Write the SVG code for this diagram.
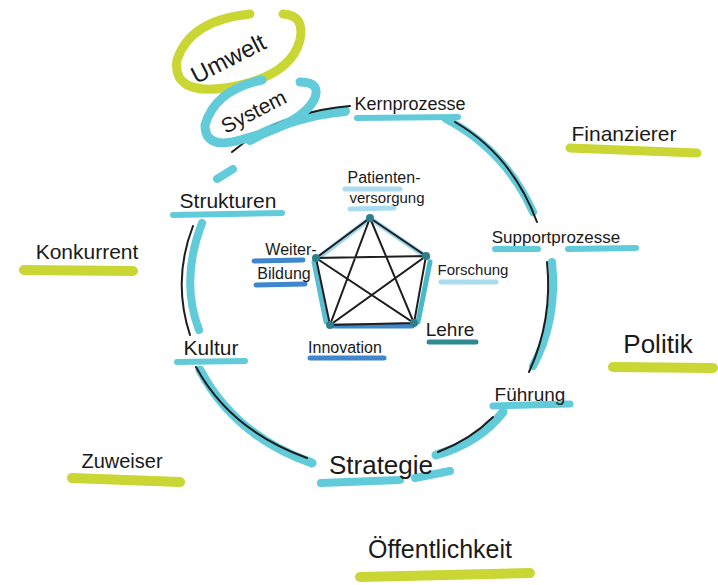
<svg xmlns="http://www.w3.org/2000/svg" width="718" height="585" viewBox="0 0 718 585">
<style>
text{font-family:"Liberation Sans","DejaVu Sans",sans-serif;fill:#1a1a1a;text-anchor:middle}
.teal{fill:none;stroke:#62cbd9;stroke-linecap:round}
.yel{fill:none;stroke:#c9d634;stroke-linecap:round}
.ink{fill:none;stroke:#1e1e1e;stroke-width:2;stroke-linecap:round}
.pe{fill:none;stroke-linecap:round;stroke-width:5}
</style>
<rect width="718" height="585" fill="#ffffff"/>

<g id="connectors">
  <path class="teal" stroke-width="10" d="M250,140 Q292,116 345,111"/>
  <path class="ink" d="M232,152 Q280,112 350,106"/>
  <path class="teal" stroke-width="8" d="M446,119 Q505,150 533,212"/>
  <path class="ink" d="M455,122 Q512,155 537,222"/>
  <path class="teal" stroke-width="8" d="M552,262 Q558,320 533,366"/>
  <path class="ink" d="M547,262 Q553,320 529,372"/>
  <path class="teal" stroke-width="9" d="M503,412 Q480,442 436,455"/>
  <path class="ink" d="M493,417 Q470,440 438,452"/>
  <path class="teal" stroke-width="9" d="M312,463 Q235,436 200,370"/>
  <path class="ink" d="M307,458 Q230,430 196,367"/>
  <path class="teal" stroke-width="8" d="M199,330 Q180,280 202,223"/>
  <path class="ink" d="M190,335 Q172,280 193,226"/>
  <path class="teal" stroke-width="8" d="M217,179 L233,169"/>
</g>

<g id="umwelt">
  <path class="yel" stroke-width="9" d="M250,14 Q190,20 177,60 Q172,95 225,88 Q290,78 300,40 Q305,15 283,14"/>
  <text font-size="24" transform="translate(232,66) rotate(-27)">Umwelt</text>
</g>
<g id="system">
  <path class="teal" stroke-width="9" d="M262,80 Q215,90 205,125 Q205,150 240,140 Q300,125 314,100 Q322,82 300,82"/>
  <text font-size="21" transform="translate(257,118) rotate(-27)">System</text>
</g>
<g id="kernprozesse">
  <path class="teal" stroke-width="6" d="M357,118 L458,117"/>
  <text font-size="18" x="410" y="110">Kernprozesse</text>
</g>
<g id="supportprozesse">
  <path class="teal" stroke-width="6" d="M495,249 L538,249 M568,249 L636,248"/>
  <text font-size="17" x="556" y="243">Supportprozesse</text>
</g>
<g id="fuehrung">
  <path class="teal" stroke-width="7" d="M493,406 L570,404"/>
  <text font-size="19" x="530" y="401">Führung</text>
</g>
<g id="strategie">
  <path class="teal" stroke-width="8" d="M321,483 L400,480 M415,478 L450,471"/>
  <text font-size="26" x="381" y="474">Strategie</text>
</g>
<g id="kultur">
  <path class="teal" stroke-width="6" d="M177,362 L245,361"/>
  <text font-size="21" x="211" y="355">Kultur</text>
</g>
<g id="strukturen">
  <path class="teal" stroke-width="6" d="M173,215 L282,213"/>
  <text font-size="21" x="228" y="208">Strukturen</text>
</g>

<g id="finanzierer">
  <path class="yel" stroke-width="9" d="M570,148 L697,153"/>
  <text font-size="21" x="624" y="141">Finanzierer</text>
</g>
<g id="konkurrent">
  <path class="yel" stroke-width="10" d="M24,270 L133,271"/>
  <text font-size="21" x="87" y="259">Konkurrent</text>
</g>
<g id="politik">
  <path class="yel" stroke-width="10" d="M613,367 L713,368"/>
  <text font-size="26" x="658" y="353">Politik</text>
</g>
<g id="zuweiser">
  <path class="yel" stroke-width="10" d="M72,478 L180,482"/>
  <text font-size="20" x="122" y="468">Zuweiser</text>
</g>
<g id="oeffentlichkeit">
  <path class="yel" stroke-width="10" d="M360,577 L530,573"/>
  <text font-size="25" x="440" y="558">Öffentlichkeit</text>
</g>

<g id="pentagon">
  <path class="pe" stroke="#9fd6ef" d="M368,220 L318,258"/>
  <path class="pe" stroke="#9fd6ef" d="M374,221 L428,258"/>
  <path class="pe" stroke="#49b9c9" d="M430,262 L418,322"/>
  <path class="pe" stroke="#3f87cc" d="M334,326 L412,326"/>
  <path class="pe" stroke="#58bfd0" d="M314,262 L326,322"/>
  <path class="ink" d="M370,218 L426,256 L414,323 L330,325 L316,258 Z M370,218 L414,323 L316,258 L426,256 L330,325 Z"/>
  <g fill="#2f7f8a"><circle cx="370" cy="218" r="4"/><circle cx="426" cy="256" r="4"/><circle cx="414" cy="323" r="4"/><circle cx="330" cy="325" r="4"/><circle cx="316" cy="258" r="4"/></g>
</g>
<g id="patientenversorgung">
  <path class="pe" stroke="#a9dcef" d="M345,189 L400,189 M350,209 L394,208"/>
  <text font-size="16" x="384" y="183">Patienten-</text>
  <text font-size="15" x="387" y="203">versorgung</text>
</g>
<g id="weiterbildung">
  <path class="pe" stroke="#3f87cc" d="M254,261 L303,260 M256,285 L305,284"/>
  <text font-size="16" x="291" y="255">Weiter-</text>
  <text font-size="16" x="284" y="279">Bildung</text>
</g>
<g id="forschung">
  <path class="pe" stroke="#a9dcef" stroke-width="7" d="M441,282 L496,282"/>
  <text font-size="15" x="473" y="275">Forschung</text>
</g>
<g id="lehre">
  <path class="pe" stroke="#2f8a92" stroke-width="6" d="M429,342 L476,342"/>
  <text font-size="19" x="450" y="336">Lehre</text>
</g>
<g id="innovation">
  <path class="pe" stroke="#3f87cc" d="M310,358 L384,358"/>
  <text font-size="16" x="345" y="353">Innovation</text>
</g>
</svg>
